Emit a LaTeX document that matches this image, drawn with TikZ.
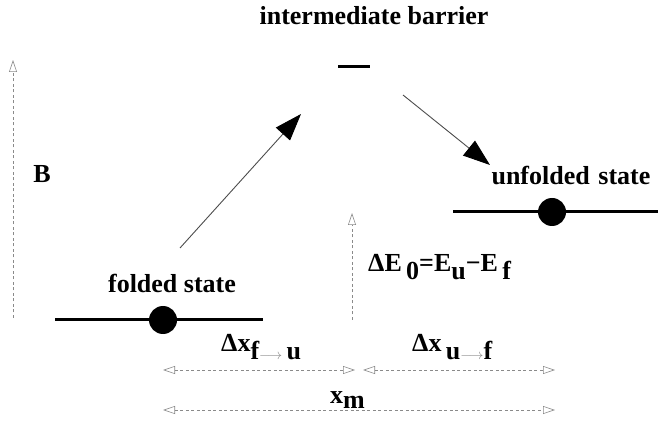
\documentclass[tikz,border=0pt]{standalone}
\usepackage{fontspec}
\setmainfont{Liberation Serif}
\usetikzlibrary{arrows.meta,positioning}
\definecolor{dimGray}{HTML}{8A8A8A}
\tikzset{
  % state labels, big bold serif
  lbl/.style={font=\fontsize{26}{28}\selectfont\bfseries, inner sep=0pt},
  % energy levels
  level/.style={line width=3pt},
  ball/.style={circle, fill=black, minimum size=28pt, inner sep=0pt},
  % transitions
  jump/.style={-{Triangle[length=27pt,width=19pt,color=black]}, line width=0.9pt, draw=black!70},
  % dimension arrows
  dim/.style={draw=dimGray, line width=0.6pt, dash pattern=on 3pt off 2.5pt,
              {Triangle[open,length=12pt,width=8pt]}-{Triangle[open,length=12pt,width=8pt]}},
  dimup/.style={draw=dimGray, line width=0.6pt, dash pattern=on 3pt off 2.5pt,
              -{Triangle[open,length=12pt,width=8pt]}},
}
\newcommand{\dn}[1]{\raisebox{-8pt}{#1}}
\newcommand{\subarr}{\textcolor{dimGray}{\fontsize{14}{14}\selectfont$\longrightarrow$}}

\begin{document}
\begin{tikzpicture}[x=1pt, y=-1pt]
\useasboundingbox (0,0) rectangle (658,427);

% levels
\coordinate (fL) at (55,320);  \coordinate (fR) at (263,320);
\coordinate (uL) at (453,212); \coordinate (uR) at (658,212);
\coordinate (bL) at (338,67);  \coordinate (bR) at (370,67);
\draw[level] (fL) -- (fR);
\draw[level] (uL) -- (uR);
\draw[level] (bL) -- (bR);
\node[ball] (fball) at (163,320) {};
\node[ball] (uball) at (552,212) {};

\node[lbl, anchor=base] (title) at (374,25) {intermediate barrier};
\node[lbl, anchor=base] (fstate) at (172,293) {folded state};
\node[lbl, anchor=base] (ustate) at (571,185) {unfolded\,\,state};
\node[lbl, anchor=base] (bB) at (42,183) {B};

% transitions
\coordinate (j1s) at (180,248); \coordinate (j1e) at (301,114);
\coordinate (j2s) at (403,95);  \coordinate (j2e) at (490,165);
\draw[jump] (j1s) -- (j1e);
\draw[jump] (j2s) -- (j2e);

% barrier height and energy gap
\coordinate (bB0) at (13,318);  \coordinate (bB1) at (13,60);
\coordinate (dE0) at (352,320); \coordinate (dE1) at (352,213);
\draw[dimup] (bB0) -- (bB1);
\draw[dimup] (dE0) -- (dE1);
\node[lbl, anchor=base west] (dE) at (368,272)
  {ΔE\,\dn{0}=E\dn{u}−E\,\dn{f}};

% distances
\coordinate (xa) at (163,370); \coordinate (xb) at (355,370);
\coordinate (xc) at (363,370); \coordinate (xd) at (555,370);
\coordinate (xe) at (163,410); \coordinate (xf) at (555,410);
\draw[dim] (xa) -- (xb);
\draw[dim] (xc) -- (xd);
\draw[dim] (xe) -- (xf);
\node[lbl, anchor=base west] (dxfu) at (221,352) {Δx\dn{f}\dn{\subarr}\,\dn{u}};
\node[lbl, anchor=base west] (dxuf) at (412,352) {Δx\,\dn{u}\dn{\subarr}\dn{f}};
\node[lbl, anchor=base west] (xm) at (330,403) {x\raisebox{-5pt}{m}};
\end{tikzpicture}
\end{document}
